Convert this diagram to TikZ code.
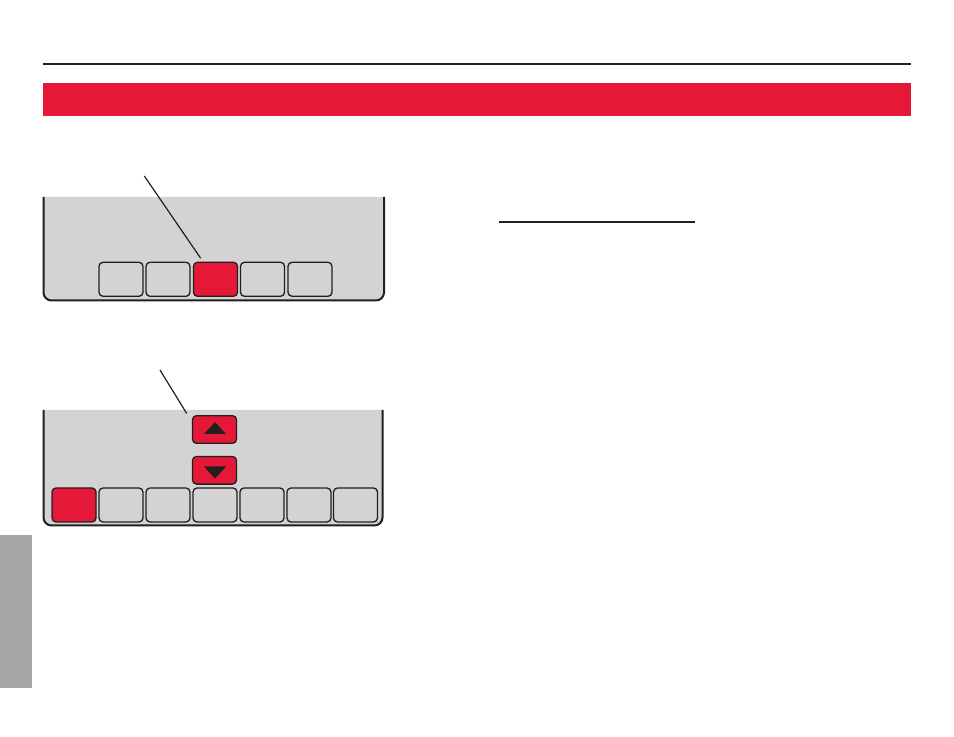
\documentclass[tikz,border=0pt]{standalone}
\usetikzlibrary{calc}
\definecolor{hred}{HTML}{E61837}
\definecolor{pgray}{HTML}{D3D3D3}
\definecolor{tabgray}{HTML}{A7A5A6}
\definecolor{ink}{HTML}{231F20}
\tikzset{
  panel/.style={fill=pgray,draw=ink,line width=1.5pt,rounded corners=6pt},
  keybox/.style={draw=ink,line width=1pt,rounded corners=3pt,fill=pgray,minimum width=33pt,minimum height=25.5pt,inner sep=0pt,outer sep=0pt},
  redkey/.style={keybox,fill=hred},
  arrowkey/.style={redkey,minimum height=20.7pt},
  leader/.style={draw=ink,line width=0.9pt},
  tri/.style={fill=ink,draw=none}
}
\begin{document}
\begin{tikzpicture}[x=0.75pt,y=-0.75pt]
\useasboundingbox (0,0) rectangle (954,737);
% header
\draw[ink,line width=1.5pt] (43,64) -- (911,64);
\fill[hred] (43,83) rectangle (911,116);
% side tab
\fill[tabgray] (0,535) rectangle (32,688);
% underline
\draw[ink,line width=1pt] (499,222) -- (695,222);
% top panel
\path[panel] (43.5,197) -- (43.5,300.5) -- (384,300.5) -- (384,197);
\foreach \i/\x in {1/121,2/168,4/262.5,5/310}{
  \node[keybox] (ta\i) at (\x,279.3) {};
}
\node[redkey] (ta3) at (215.5,279.3) {};
\coordinate (tl) at (144.3,176);
\draw[leader] (tl) -- ($(ta3.north)+(-14.8,-4)$);
% bottom panel
\path[panel] (43.5,410) -- (43.5,525.5) -- (382.5,525.5) -- (382.5,410);
\node[arrowkey] (up) at (214.5,429.5) {};
\node[arrowkey] (down) at (214.5,470.3) {};
\fill[tri] (215,422) -- (226,434) -- (204,434) -- cycle;
\fill[tri] (215,478.7) -- (226,466.5) -- (204,466.5) -- cycle;
\node[redkey] (bb1) at (74,505) {};
\foreach \i/\x in {2/121,3/168,4/215,5/262,6/309,7/355.5}{
  \node[keybox] (bb\i) at (\x,505) {};
}
\coordinate (bl) at (160,370);
\draw[leader] (bl) -- ($(up.north west)+(-5.8,-2.2)$);
\end{tikzpicture}
\end{document}
